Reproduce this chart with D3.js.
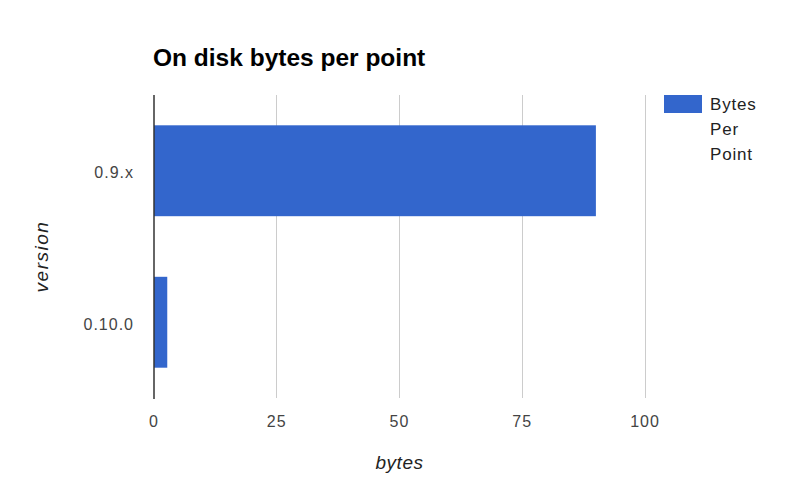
<!DOCTYPE html>
<html><head><meta charset="utf-8">
<script src="https://cdn.jsdelivr.net/npm/d3@7"></script>
<style>body{margin:0;background:#fff}text{font-family:Arial,"Liberation Sans",sans-serif}</style>
</head><body><svg id="c" width="797" height="494"></svg>
<script>
const categories = ["0.9.x", "0.10.0"];
const values = [90, 2.7];
const xTicks = [0, 25, 50, 75, 100];
const seriesName = ["Bytes", "Per", "Point"];

const svg = d3.select("#c");
const m = {l:154, r:645, t:95, b:398};
const x = d3.scaleLinear().domain([0,100]).range([m.l, m.r]);
const y = d3.scaleBand().domain(categories).range([m.t, m.b]).paddingInner(0.4).paddingOuter(0.2);

svg.append("rect").attr("width",797).attr("height",494).attr("fill","#fff");

// gridlines
svg.append("g").selectAll("line").data(xTicks.filter(d=>d>0)).join("line")
  .attr("x1",d=>x(d)).attr("x2",d=>x(d)).attr("y1",m.t).attr("y2",m.b)
  .attr("stroke","#cccccc").attr("stroke-width",1).attr("shape-rendering","crispEdges");

// bars
svg.append("g").selectAll("rect").data(categories).join("rect")
  .attr("x",x(0)).attr("y",d=>y(d))
  .attr("width",(d,i)=>x(values[i])-x(0)).attr("height",y.bandwidth())
  .attr("fill","#3366cc");

// baseline axis
svg.append("line").attr("x1",x(0)).attr("x2",x(0)).attr("y1",m.t).attr("y2",m.b+1)
  .attr("stroke","#333").attr("stroke-width",1.5);

// x tick labels
svg.append("g").selectAll("text").data(xTicks).join("text")
  .attr("x",d=>x(d)).attr("y",427).attr("text-anchor","middle")
  .attr("font-size",16).attr("letter-spacing",1).attr("fill","#444").text(d=>d);

// y labels
svg.append("g").selectAll("text").data(categories).join("text")
  .attr("x",134).attr("y",d=>y(d)+y.bandwidth()/2+7.5).attr("text-anchor","end")
  .attr("font-size",16).attr("letter-spacing",1).attr("fill","#444").text(d=>d);

// title
svg.append("text").attr("x",153).attr("y",66).attr("font-size",24.5).attr("font-weight","bold")
  .attr("fill","#000").text("On disk bytes per point");

// axis titles
svg.append("text").attr("x",x(50)).attr("y",469).attr("text-anchor","middle")
  .attr("font-size",19).attr("font-style","italic").attr("letter-spacing",0.5).attr("fill","#222").text("bytes");
svg.append("text").attr("transform","translate(48,"+((m.t+m.b)/2+10)+") rotate(-90)")
  .attr("text-anchor","middle").attr("font-size",19).attr("font-style","italic").attr("letter-spacing",1.5).attr("fill","#222").text("version");

// legend
svg.append("rect").attr("x",664).attr("y",95).attr("width",38).attr("height",18).attr("fill","#3366cc");
svg.append("g").selectAll("text").data(seriesName).join("text")
  .attr("x",710).attr("y",(d,i)=>110+i*25).attr("font-size",17).attr("letter-spacing",0.8).attr("fill","#222").text(d=>d);
</script></body></html>
